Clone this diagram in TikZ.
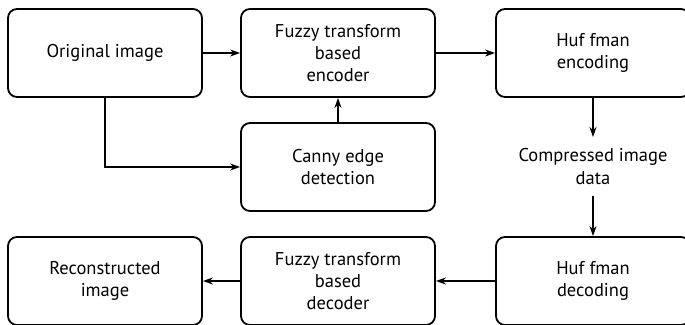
\documentclass[tikz,border=0pt]{standalone}
\usepackage{fontspec}
\setmainfont{PT Sans}
\usetikzlibrary{arrows.meta}
\begin{document}
\begin{tikzpicture}[x=1pt,y=-1pt,
  box/.style={draw,line width=1.8pt,rounded corners=9pt,minimum width=194pt,minimum height=88pt,align=center,font=\fontsize{18.5}{22}\selectfont,inner sep=0pt},
  lbl/.style={align=center,font=\fontsize{18.5}{23}\selectfont},
  conn/.style={line width=1.6pt,-{Stealth[length=10pt,width=7pt]}}]
\clip (0,0) rectangle (685,324);
\useasboundingbox (0,0) rectangle (685,324);
\node[box] (orig) at (105,53) {Original image};
\node[box] (fenc) at (338,53) {Fuzzy transform\\based\\encoder};
\node[box] (henc) at (593,53) {Huf fman\\encoding};
\node[box] (canny) at (338,167) {Canny edge\\detection};
\node[lbl] (comp) at (593,167) {Compressed image\\data};
\node[box] (hdec) at (593,281) {Huf fman\\decoding};
\node[box] (fdec) at (338,281) {Fuzzy transform\\based\\decoder};
\node[box] (rec) at (105,281) {Reconstructed\\image};
\coordinate (c1) at (593,137);
\coordinate (c2) at (593,196);
\draw[conn] (orig) -- (fenc);
\draw[conn] (fenc) -- (henc);
\draw[conn] (orig.south) |- (canny.west);
\draw[conn] (canny) -- (fenc);
\draw[conn] (henc.south) -- (c1);
\draw[conn] (c2) -- (hdec.north);
\draw[conn] (hdec) -- (fdec);
\draw[conn] (fdec) -- (rec);
\end{tikzpicture}
\end{document}
